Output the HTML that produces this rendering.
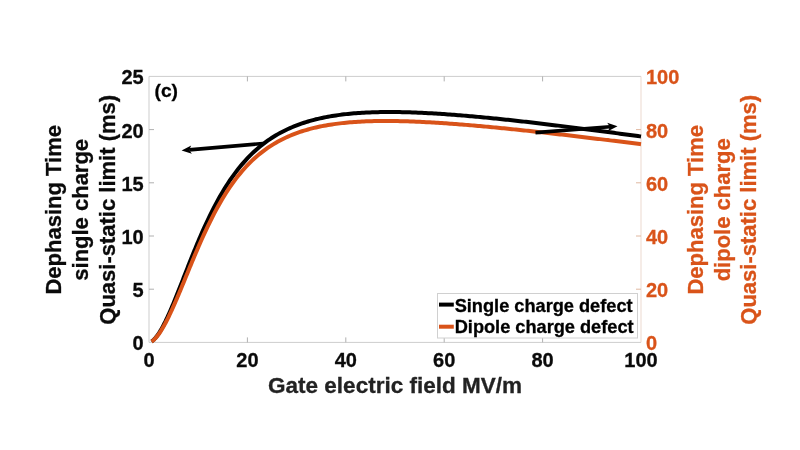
<!DOCTYPE html>
<html><head><meta charset="utf-8"><style>
html,body{margin:0;padding:0;background:#fff;width:800px;height:450px;overflow:hidden}
svg{display:block;font-family:"Liberation Sans", sans-serif;will-change:transform}
text{stroke:currentColor;stroke-width:0.3px;paint-order:stroke}
</style></head><body>
<svg width="800" height="450" viewBox="0 0 800 450">
<rect width="800" height="450" fill="#fff"/>
<rect x="149" y="76.4" width="492" height="266.0" fill="#fff" stroke="none"/>
<path d="M149,342.4 V76.4 H641" fill="none" stroke="#cdcdcd" stroke-width="1"/>
<path d="M149,342.4 H641" fill="none" stroke="#cdcdcd" stroke-width="1"/>
<path d="M641,76.4 V342.4" fill="none" stroke="#ecd9cf" stroke-width="1"/>
<path d="M247.4,342.4 v-5 M247.4,76.4 v5 M345.8,342.4 v-5 M345.8,76.4 v5 M444.2,342.4 v-5 M444.2,76.4 v5 M542.6,342.4 v-5 M542.6,76.4 v5 M149,289.2 h5 M149,235.99999999999997 h5 M149,182.79999999999998 h5 M149,129.59999999999997 h5" stroke="#b0b0b0" stroke-width="1" fill="none"/>
<path d="M641,289.2 h-5 M641,235.99999999999997 h-5 M641,182.79999999999998 h-5 M641,129.59999999999997 h-5" stroke="#e0b8a0" stroke-width="1" fill="none"/>
<path d="M151.5,341.48 L152.0,341.15 L152.5,340.78 L153.0,340.37 L153.5,339.93 L154.0,339.46 L154.5,338.95 L155.0,338.40 L155.5,337.83 L156.0,337.23 L156.5,336.60 L157.0,335.94 L157.5,335.26 L158.0,334.55 L158.5,333.81 L159.0,333.05 L159.5,332.27 L160.0,331.46 L160.5,330.63 L161.0,329.78 L161.5,328.91 L162.0,328.02 L162.5,327.11 L163.0,326.18 L163.5,325.23 L164.0,324.26 L164.5,323.28 L165.0,322.28 L165.5,321.26 L166.0,320.23 L166.5,319.18 L167.0,318.12 L167.5,317.04 L168.0,315.95 L168.5,314.85 L169.0,313.74 L169.5,312.61 L170.0,311.47 L170.5,310.32 L171.0,309.16 L171.5,307.99 L172.0,306.82 L172.5,305.63 L173.0,304.43 L173.5,303.23 L174.0,302.02 L174.5,300.80 L175.0,299.57 L175.5,298.34 L176.0,297.10 L176.5,295.86 L177.0,294.61 L177.5,293.36 L178.0,292.10 L178.5,290.84 L179.0,289.58 L179.5,288.31 L180.0,287.04 L180.5,285.77 L181.0,284.49 L181.5,283.22 L182.0,281.94 L182.5,280.66 L183.0,279.38 L183.5,278.10 L184.0,276.82 L184.5,275.54 L185.0,274.26 L185.5,272.98 L186.0,271.70 L186.5,270.42 L187.0,269.15 L187.5,267.88 L188.0,266.60 L188.5,265.33 L189.0,264.07 L189.5,262.80 L190.0,261.54 L190.5,260.29 L191.0,259.03 L191.5,257.78 L192.0,256.53 L192.5,255.29 L193.0,254.05 L193.5,252.82 L194.0,251.59 L194.5,250.36 L195.0,249.14 L195.5,247.93 L196.0,246.71 L196.5,245.51 L197.0,244.31 L197.5,243.12 L198.0,241.93 L198.5,240.74 L199.0,239.57 L199.5,238.40 L200.0,237.23 L202.0,232.63 L204.0,228.14 L206.0,223.76 L208.0,219.49 L210.0,215.34 L212.0,211.30 L214.0,207.38 L216.0,203.58 L218.0,199.90 L220.0,196.33 L222.0,192.88 L224.0,189.55 L226.0,186.33 L228.0,183.22 L230.0,180.23 L232.0,177.33 L234.0,174.55 L236.0,171.86 L238.0,169.27 L240.0,166.78 L242.0,164.39 L244.0,162.08 L246.0,159.86 L248.0,157.73 L250.0,155.67 L252.0,153.70 L254.0,151.80 L256.0,149.98 L258.0,148.23 L260.0,146.55 L262.0,144.93 L264.0,143.38 L266.0,141.89 L268.0,140.46 L270.0,139.09 L272.0,137.77 L274.0,136.51 L276.0,135.29 L278.0,134.13 L280.0,133.01 L282.0,131.94 L284.0,130.91 L286.0,129.93 L288.0,128.98 L290.0,128.08 L292.0,127.21 L294.0,126.38 L296.0,125.59 L298.0,124.83 L300.0,124.10 L302.0,123.40 L304.0,122.74 L306.0,122.10 L308.0,121.49 L310.0,120.91 L312.0,120.35 L314.0,119.82 L316.0,119.31 L318.0,118.83 L320.0,118.37 L322.0,117.93 L324.0,117.52 L326.0,117.12 L328.0,116.74 L330.0,116.39 L332.0,116.05 L334.0,115.72 L336.0,115.42 L338.0,115.13 L340.0,114.86 L342.0,114.60 L344.0,114.36 L346.0,114.13 L348.0,113.92 L350.0,113.72 L352.0,113.54 L354.0,113.36 L356.0,113.20 L358.0,113.05 L360.0,112.91 L362.0,112.79 L364.0,112.67 L366.0,112.57 L368.0,112.47 L370.0,112.39 L372.0,112.31 L374.0,112.24 L376.0,112.19 L378.0,112.14 L380.0,112.10 L382.0,112.06 L384.0,112.04 L386.0,112.02 L388.0,112.02 L390.0,112.01 L392.0,112.02 L394.0,112.03 L396.0,112.05 L398.0,112.08 L400.0,112.11 L402.0,112.15 L404.0,112.19 L406.0,112.24 L408.0,112.30 L410.0,112.36 L412.0,112.42 L414.0,112.50 L416.0,112.57 L418.0,112.65 L420.0,112.74 L422.0,112.83 L424.0,112.93 L426.0,113.03 L428.0,113.13 L430.0,113.24 L432.0,113.35 L434.0,113.47 L436.0,113.59 L438.0,113.71 L440.0,113.84 L442.0,113.97 L444.0,114.11 L446.0,114.25 L448.0,114.39 L450.0,114.53 L452.0,114.68 L454.0,114.83 L456.0,114.99 L458.0,115.14 L460.0,115.30 L462.0,115.47 L464.0,115.63 L466.0,115.80 L468.0,115.97 L470.0,116.15 L472.0,116.32 L474.0,116.50 L476.0,116.68 L478.0,116.87 L480.0,117.05 L482.0,117.24 L484.0,117.43 L486.0,117.62 L488.0,117.82 L490.0,118.01 L492.0,118.21 L494.0,118.41 L496.0,118.61 L498.0,118.82 L500.0,119.02 L502.0,119.23 L504.0,119.44 L506.0,119.65 L508.0,119.86 L510.0,120.08 L512.0,120.29 L514.0,120.51 L516.0,120.73 L518.0,120.95 L520.0,121.17 L522.0,121.40 L524.0,121.62 L526.0,121.85 L528.0,122.08 L530.0,122.31 L532.0,122.54 L534.0,122.77 L536.0,123.00 L538.0,123.23 L540.0,123.47 L542.0,123.71 L544.0,123.94 L546.0,124.18 L548.0,124.42 L550.0,124.66 L552.0,124.91 L554.0,125.15 L556.0,125.39 L558.0,125.64 L560.0,125.88 L562.0,126.13 L564.0,126.38 L566.0,126.63 L568.0,126.88 L570.0,127.13 L572.0,127.38 L574.0,127.63 L576.0,127.89 L578.0,128.14 L580.0,128.40 L582.0,128.65 L584.0,128.91 L586.0,129.17 L588.0,129.43 L590.0,129.68 L592.0,129.94 L594.0,130.20 L596.0,130.47 L598.0,130.73 L600.0,130.99 L602.0,131.25 L604.0,131.52 L606.0,131.78 L608.0,132.05 L610.0,132.31 L612.0,132.58 L614.0,132.85 L616.0,133.12 L618.0,133.38 L620.0,133.65 L622.0,133.92 L624.0,134.19 L626.0,134.46 L628.0,134.73 L630.0,135.01 L632.0,135.28 L634.0,135.55 L636.0,135.82 L638.0,136.10 L640.0,136.37 L641.0,136.51" fill="none" stroke="#000" stroke-width="4.0" stroke-linejoin="round"/>
<path d="M151.5,341.52 L152.0,341.21 L152.5,340.87 L153.0,340.49 L153.5,340.08 L154.0,339.64 L154.5,339.16 L155.0,338.66 L155.5,338.14 L156.0,337.58 L156.5,337.00 L157.0,336.40 L157.5,335.77 L158.0,335.12 L158.5,334.45 L159.0,333.75 L159.5,333.03 L160.0,332.29 L160.5,331.53 L161.0,330.75 L161.5,329.96 L162.0,329.14 L162.5,328.30 L163.0,327.45 L163.5,326.58 L164.0,325.69 L164.5,324.79 L165.0,323.87 L165.5,322.94 L166.0,321.99 L166.5,321.03 L167.0,320.05 L167.5,319.06 L168.0,318.05 L168.5,317.04 L169.0,316.01 L169.5,314.97 L170.0,313.92 L170.5,312.86 L171.0,311.78 L171.5,310.70 L172.0,309.61 L172.5,308.50 L173.0,307.39 L173.5,306.27 L174.0,305.15 L174.5,304.01 L175.0,302.87 L175.5,301.72 L176.0,300.56 L176.5,299.40 L177.0,298.23 L177.5,297.06 L178.0,295.88 L178.5,294.69 L179.0,293.50 L179.5,292.31 L180.0,291.11 L180.5,289.91 L181.0,288.71 L181.5,287.50 L182.0,286.29 L182.5,285.08 L183.0,283.87 L183.5,282.66 L184.0,281.44 L184.5,280.22 L185.0,279.01 L185.5,277.79 L186.0,276.57 L186.5,275.35 L187.0,274.13 L187.5,272.91 L188.0,271.70 L188.5,270.48 L189.0,269.27 L189.5,268.05 L190.0,266.84 L190.5,265.63 L191.0,264.42 L191.5,263.22 L192.0,262.02 L192.5,260.82 L193.0,259.62 L193.5,258.43 L194.0,257.24 L194.5,256.05 L195.0,254.87 L195.5,253.69 L196.0,252.51 L196.5,251.34 L197.0,250.18 L197.5,249.02 L198.0,247.86 L198.5,246.71 L199.0,245.56 L199.5,244.42 L200.0,243.28 L202.0,238.78 L204.0,234.38 L206.0,230.08 L208.0,225.87 L210.0,221.78 L212.0,217.79 L214.0,213.91 L216.0,210.15 L218.0,206.50 L220.0,202.96 L222.0,199.54 L224.0,196.23 L226.0,193.03 L228.0,189.94 L230.0,186.96 L232.0,184.09 L234.0,181.32 L236.0,178.66 L238.0,176.09 L240.0,173.62 L242.0,171.24 L244.0,168.96 L246.0,166.76 L248.0,164.65 L250.0,162.62 L252.0,160.68 L254.0,158.81 L256.0,157.02 L258.0,155.29 L260.0,153.64 L262.0,152.06 L264.0,150.54 L266.0,149.09 L268.0,147.69 L270.0,146.35 L272.0,145.07 L274.0,143.84 L276.0,142.67 L278.0,141.54 L280.0,140.46 L282.0,139.43 L284.0,138.44 L286.0,137.49 L288.0,136.59 L290.0,135.72 L292.0,134.89 L294.0,134.10 L296.0,133.35 L298.0,132.62 L300.0,131.93 L302.0,131.27 L304.0,130.65 L306.0,130.05 L308.0,129.47 L310.0,128.93 L312.0,128.41 L314.0,127.91 L316.0,127.44 L318.0,126.99 L320.0,126.57 L322.0,126.16 L324.0,125.78 L326.0,125.41 L328.0,125.07 L330.0,124.74 L332.0,124.43 L334.0,124.14 L336.0,123.86 L338.0,123.61 L340.0,123.36 L342.0,123.13 L344.0,122.92 L346.0,122.72 L348.0,122.53 L350.0,122.35 L352.0,122.19 L354.0,122.04 L356.0,121.90 L358.0,121.77 L360.0,121.66 L362.0,121.55 L364.0,121.46 L366.0,121.37 L368.0,121.29 L370.0,121.23 L372.0,121.17 L374.0,121.12 L376.0,121.08 L378.0,121.04 L380.0,121.02 L382.0,121.00 L384.0,120.99 L386.0,120.99 L388.0,120.99 L390.0,121.00 L392.0,121.02 L394.0,121.04 L396.0,121.07 L398.0,121.10 L400.0,121.15 L402.0,121.19 L404.0,121.24 L406.0,121.30 L408.0,121.36 L410.0,121.43 L412.0,121.50 L414.0,121.58 L416.0,121.66 L418.0,121.75 L420.0,121.84 L422.0,121.93 L424.0,122.03 L426.0,122.13 L428.0,122.24 L430.0,122.35 L432.0,122.47 L434.0,122.58 L436.0,122.70 L438.0,122.83 L440.0,122.96 L442.0,123.09 L444.0,123.22 L446.0,123.36 L448.0,123.50 L450.0,123.64 L452.0,123.78 L454.0,123.93 L456.0,124.08 L458.0,124.24 L460.0,124.39 L462.0,124.55 L464.0,124.71 L466.0,124.87 L468.0,125.04 L470.0,125.21 L472.0,125.38 L474.0,125.55 L476.0,125.72 L478.0,125.90 L480.0,126.08 L482.0,126.26 L484.0,126.44 L486.0,126.62 L488.0,126.81 L490.0,127.00 L492.0,127.19 L494.0,127.38 L496.0,127.57 L498.0,127.76 L500.0,127.96 L502.0,128.15 L504.0,128.35 L506.0,128.55 L508.0,128.75 L510.0,128.96 L512.0,129.16 L514.0,129.37 L516.0,129.57 L518.0,129.78 L520.0,129.99 L522.0,130.20 L524.0,130.41 L526.0,130.62 L528.0,130.84 L530.0,131.05 L532.0,131.27 L534.0,131.49 L536.0,131.71 L538.0,131.92 L540.0,132.15 L542.0,132.37 L544.0,132.59 L546.0,132.81 L548.0,133.04 L550.0,133.26 L552.0,133.49 L554.0,133.71 L556.0,133.94 L558.0,134.17 L560.0,134.40 L562.0,134.63 L564.0,134.86 L566.0,135.09 L568.0,135.33 L570.0,135.56 L572.0,135.79 L574.0,136.03 L576.0,136.26 L578.0,136.50 L580.0,136.74 L582.0,136.97 L584.0,137.21 L586.0,137.45 L588.0,137.69 L590.0,137.93 L592.0,138.17 L594.0,138.41 L596.0,138.65 L598.0,138.89 L600.0,139.14 L602.0,139.38 L604.0,139.63 L606.0,139.87 L608.0,140.11 L610.0,140.36 L612.0,140.61 L614.0,140.85 L616.0,141.10 L618.0,141.35 L620.0,141.60 L622.0,141.84 L624.0,142.09 L626.0,142.34 L628.0,142.59 L630.0,142.84 L632.0,143.09 L634.0,143.34 L636.0,143.60 L638.0,143.85 L640.0,144.10 L641.0,144.23" fill="none" stroke="#D95319" stroke-width="4.0" stroke-linejoin="round"/>
<path d="M263.0,143.5 L189.1,149.9" stroke="#000" stroke-width="3.6" fill="none"/><path d="M181.6,150.5 L191.2,145.5 L189.1,149.9 L191.9,153.8 Z" fill="#000"/>
<path d="M535.5,132.6 L610.0,126.8" stroke="#000" stroke-width="3.6" fill="none"/><path d="M617.5,126.2 L607.9,131.2 L610.0,126.8 L607.2,122.8 Z" fill="#000"/>
<text x="154.5" y="97.4" font-size="19.2" font-weight="bold" fill="#000" color="#000">(c)</text>
<rect x="437.5" y="293.5" width="200" height="44.5" fill="#fff" stroke="#d0d0d0" stroke-width="1"/>
<path d="M439,304.6 H453.8" stroke="#000" stroke-width="4"/>
<path d="M439,326.7 H453.8" stroke="#D95319" stroke-width="4"/>
<text x="454.7" y="311.6" font-size="18.2" font-weight="bold" fill="#000" color="#000">Single charge defect</text>
<text x="454.7" y="333.4" font-size="18.2" font-weight="bold" fill="#000" color="#000">Dipole charge defect</text>
<text x="143.7" y="350.4" font-size="20" font-weight="bold" fill="#0a0a0a" color="#0a0a0a" text-anchor="end">0</text>
<text x="143.7" y="297.2" font-size="20" font-weight="bold" fill="#0a0a0a" color="#0a0a0a" text-anchor="end">5</text>
<text x="143.7" y="244.0" font-size="20" font-weight="bold" fill="#0a0a0a" color="#0a0a0a" text-anchor="end">10</text>
<text x="143.7" y="190.8" font-size="20" font-weight="bold" fill="#0a0a0a" color="#0a0a0a" text-anchor="end">15</text>
<text x="143.7" y="137.6" font-size="20" font-weight="bold" fill="#0a0a0a" color="#0a0a0a" text-anchor="end">20</text>
<text x="143.7" y="84.4" font-size="20" font-weight="bold" fill="#0a0a0a" color="#0a0a0a" text-anchor="end">25</text>
<text x="646" y="350.4" font-size="20" font-weight="bold" fill="#D95319" color="#D95319">0</text>
<text x="646" y="297.2" font-size="20" font-weight="bold" fill="#D95319" color="#D95319">20</text>
<text x="646" y="244.0" font-size="20" font-weight="bold" fill="#D95319" color="#D95319">40</text>
<text x="646" y="190.8" font-size="20" font-weight="bold" fill="#D95319" color="#D95319">60</text>
<text x="646" y="137.6" font-size="20" font-weight="bold" fill="#D95319" color="#D95319">80</text>
<text x="646" y="84.4" font-size="20" font-weight="bold" fill="#D95319" color="#D95319">100</text>
<text x="149.0" y="367.3" font-size="20" font-weight="bold" fill="#0a0a0a" color="#0a0a0a" text-anchor="middle">0</text>
<text x="247.4" y="367.3" font-size="20" font-weight="bold" fill="#0a0a0a" color="#0a0a0a" text-anchor="middle">20</text>
<text x="345.8" y="367.3" font-size="20" font-weight="bold" fill="#0a0a0a" color="#0a0a0a" text-anchor="middle">40</text>
<text x="444.2" y="367.3" font-size="20" font-weight="bold" fill="#0a0a0a" color="#0a0a0a" text-anchor="middle">60</text>
<text x="542.6" y="367.3" font-size="20" font-weight="bold" fill="#0a0a0a" color="#0a0a0a" text-anchor="middle">80</text>
<text x="641.0" y="367.3" font-size="20" font-weight="bold" fill="#0a0a0a" color="#0a0a0a" text-anchor="middle">100</text>
<text x="395" y="393.3" font-size="22.5" font-weight="bold" fill="#222" color="#222" text-anchor="middle">Gate electric field MV/m</text>
<text transform="translate(61.4,209.8) rotate(-90)" font-size="22" font-weight="bold" fill="#0a0a0a" color="#0a0a0a" text-anchor="middle">Dephasing Time</text>
<text transform="translate(88.0,209.8) rotate(-90)" font-size="22" font-weight="bold" fill="#0a0a0a" color="#0a0a0a" text-anchor="middle">single charge</text>
<text transform="translate(114.6,209.8) rotate(-90)" font-size="22" font-weight="bold" fill="#0a0a0a" color="#0a0a0a" text-anchor="middle">Quasi-static limit (ms)</text>
<text transform="translate(703.1,209.8) rotate(-90)" font-size="22" font-weight="bold" fill="#D95319" color="#D95319" text-anchor="middle">Dephasing Time</text>
<text transform="translate(729.7,209.8) rotate(-90)" font-size="22" font-weight="bold" fill="#D95319" color="#D95319" text-anchor="middle">dipole charge</text>
<text transform="translate(756.3000000000001,209.8) rotate(-90)" font-size="22" font-weight="bold" fill="#D95319" color="#D95319" text-anchor="middle">Quasi-static limit (ms)</text>
</svg>
</body></html>
